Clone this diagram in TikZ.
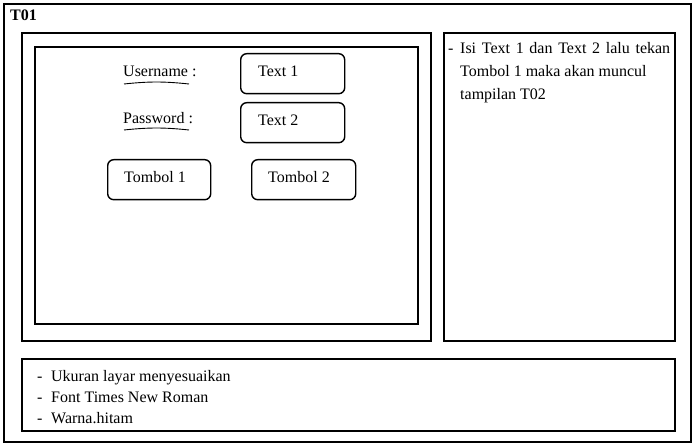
\documentclass[tikz,border=0pt]{standalone}
\usepackage{fontspec}
\setmainfont{Liberation Serif}
\begin{document}
\begin{tikzpicture}[x=1pt,y=-1pt,
  frame/.style={draw, line width=1.6pt, inner sep=0pt, anchor=north west},
  rbox/.style={draw, line width=1.4pt, rounded corners=6pt, inner sep=0pt, anchor=north west},
  lbl/.style={font=\fontsize{16}{18}\selectfont, inner sep=0pt, anchor=base west},
  uline/.style={line width=0.9pt}
]
\useasboundingbox (0,0) rectangle (694,446);
\node[frame, minimum width=687pt, minimum height=438pt] (outer) at (3,3) {};
\node[font=\bfseries\fontsize{16}{18}\selectfont, inner sep=0pt, anchor=base west] (title) at (10,21) {T01};
\node[frame, minimum width=409pt, minimum height=308pt] (left) at (21,32) {};
\node[frame, minimum width=383pt, minimum height=277pt] (inner) at (34,46) {};
\node[frame, minimum width=231pt, minimum height=308pt] (right) at (443,32) {};
\node[frame, minimum width=653pt, minimum height=72pt] (bottom) at (21,358) {};

\node[lbl] (user) at (123,77) {Username :};
\node[lbl] (pass) at (123,124) {Password :};
\coordinate (u1) at (124,84); \coordinate (u2) at (189,84);
\coordinate (p1) at (124,130); \coordinate (p2) at (189,130);
\draw[uline] (u1) to[bend left=6] (u2);
\draw[uline] (p1) to[bend left=6] (p2);

\node[rbox, minimum width=104pt, minimum height=40pt] (t1) at (240,53) {};
\node[lbl] (t1l) at (258,77) {Text 1};
\node[rbox, minimum width=104pt, minimum height=40pt] (t2) at (240,102) {};
\node[lbl] (t2l) at (258,126) {Text 2};
\node[rbox, minimum width=103pt, minimum height=40pt] (b1) at (107,159) {};
\node[lbl] (b1l) at (124,183) {Tombol 1};
\node[rbox, minimum width=104pt, minimum height=40pt] (b2) at (251,159) {};
\node[lbl] (b2l) at (268,183) {Tombol 2};

\node[lbl] (r1) at (448,54) {\makebox[12pt][l]{-}\makebox[210pt][s]{Isi Text 1 dan Text 2 lalu tekan}};
\node[lbl] (r2) at (460,77) {Tombol 1 maka akan muncul};
\node[lbl] (r3) at (460,100) {tampilan T02};

\node[lbl] (n1) at (37,382) {\makebox[14pt][l]{-}Ukuran layar menyesuaikan};
\node[lbl] (n2) at (37,403) {\makebox[14pt][l]{-}Font Times New Roman};
\node[lbl] (n3) at (37,424) {\makebox[14pt][l]{-}Warna.hitam};
\end{tikzpicture}
\end{document}
